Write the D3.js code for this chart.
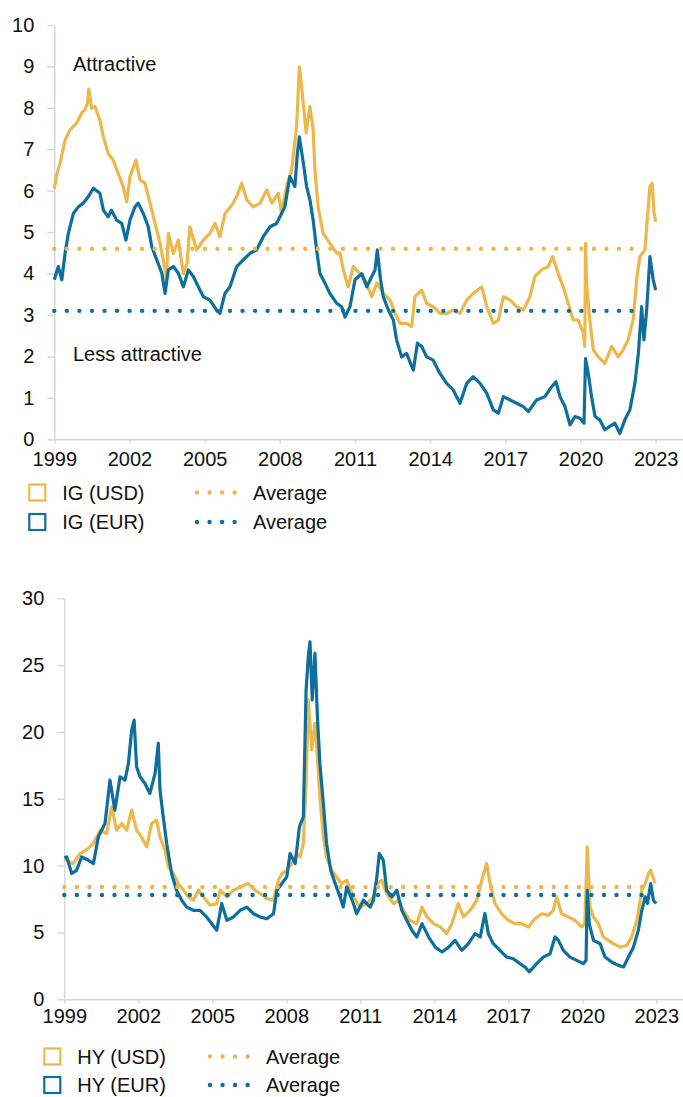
<!DOCTYPE html>
<html>
<head>
<meta charset="utf-8">
<script src="https://cdn.jsdelivr.net/npm/d3@7/dist/d3.min.js"></script>
<style>
  body { margin: 0; background: #fff; }
  svg text { font-family: "Liberation Sans", Arial, Helvetica, sans-serif; fill: #111; }
</style>
</head>
<body>
<svg id="chart" width="683" height="1097"></svg>
<script>
'use strict';

// ---- data ---------------------------------------------------------------

var yearTicks = [1999, 2002, 2005, 2008, 2011, 2014, 2017, 2020, 2023];
var igTicks = [0, 1, 2, 3, 4, 5, 6, 7, 8, 9, 10];
var hyTicks = [0, 5, 10, 15, 20, 25, 30];

var igLabels = ['IG (USD)', 'IG (EUR)'];
var hyLabels = ['HY (USD)', 'HY (EUR)'];
var averageLabel = 'Average';

// [decimal year, value]
var igUsd = [
  [1999.0, 6.05], [1999.1, 6.4], [1999.23, 6.66], [1999.43, 7.22], [1999.63, 7.47],
  [1999.89, 7.63], [2000.09, 7.87], [2000.22, 7.95], [2000.32, 8.1], [2000.38, 8.45],
  [2000.49, 7.99], [2000.62, 8.03], [2000.82, 7.71], [2000.96, 7.3], [2001.15, 6.9],
  [2001.35, 6.74], [2001.55, 6.42], [2001.75, 6.1], [2001.89, 5.73], [2002.02, 6.34],
  [2002.26, 6.74], [2002.42, 6.26], [2002.62, 6.18], [2002.82, 5.7], [2003.02, 5.21],
  [2003.22, 4.73], [2003.42, 4.09], [2003.47, 3.8], [2003.55, 4.97], [2003.75, 4.49],
  [2003.95, 4.81], [2004.15, 4.0], [2004.3, 4.25], [2004.41, 5.13], [2004.68, 4.57],
  [2004.95, 4.81], [2005.21, 4.97], [2005.41, 5.21], [2005.61, 4.89], [2005.81, 5.45],
  [2006.08, 5.65], [2006.28, 5.86], [2006.48, 6.18], [2006.68, 5.78], [2006.94, 5.61],
  [2007.21, 5.7], [2007.48, 6.02], [2007.68, 5.7], [2007.94, 5.94], [2008.07, 5.45],
  [2008.27, 6.1], [2008.47, 6.5], [2008.67, 7.55], [2008.78, 8.99], [2008.87, 8.51],
  [2009.0, 7.71], [2009.05, 7.39], [2009.2, 8.03], [2009.33, 7.47], [2009.4, 6.5],
  [2009.53, 5.61], [2009.73, 4.97], [2010.0, 4.73], [2010.27, 4.49], [2010.4, 4.5],
  [2010.53, 4.1], [2010.73, 3.68], [2010.93, 4.17], [2011.2, 4.0], [2011.4, 3.85],
  [2011.67, 3.44], [2011.87, 3.77], [2012.13, 3.52], [2012.4, 3.36], [2012.6, 3.04],
  [2012.8, 2.8], [2013.06, 2.8], [2013.26, 2.72], [2013.39, 3.44], [2013.66, 3.6],
  [2013.86, 3.28], [2014.12, 3.2], [2014.39, 3.04], [2014.66, 3.04], [2014.92, 3.12],
  [2015.19, 3.04], [2015.46, 3.36], [2015.72, 3.52], [2016.06, 3.68], [2016.26, 3.2],
  [2016.52, 2.8], [2016.72, 2.88], [2016.92, 3.44], [2017.19, 3.36], [2017.45, 3.2],
  [2017.72, 3.12], [2017.98, 3.44], [2018.18, 3.93], [2018.45, 4.09], [2018.71, 4.17],
  [2018.89, 4.41], [2019.11, 4.0], [2019.31, 3.68], [2019.51, 3.28], [2019.71, 2.88],
  [2019.91, 2.88], [2020.11, 2.56], [2020.17, 2.24], [2020.2, 4.73], [2020.25, 3.7],
  [2020.37, 2.88], [2020.51, 2.16], [2020.71, 1.99], [2020.97, 1.83], [2021.24, 2.24],
  [2021.51, 1.99], [2021.7, 2.16], [2021.9, 2.4], [2022.1, 2.88], [2022.24, 3.85],
  [2022.37, 4.41], [2022.57, 4.57], [2022.64, 5.13], [2022.77, 6.1], [2022.86, 6.18],
  [2022.93, 5.5], [2023.0, 5.25]
];

var igEur = [
  [1999.0, 3.85], [1999.16, 4.17], [1999.3, 3.85], [1999.43, 4.49], [1999.56, 4.97],
  [1999.76, 5.45], [1999.96, 5.61], [2000.16, 5.7], [2000.36, 5.86], [2000.56, 6.06],
  [2000.82, 5.94], [2000.96, 5.53], [2001.15, 5.37], [2001.28, 5.53], [2001.49, 5.29],
  [2001.69, 5.21], [2001.86, 4.81], [2002.02, 5.29], [2002.22, 5.61], [2002.35, 5.7],
  [2002.55, 5.45], [2002.75, 5.13], [2002.89, 4.65], [2003.09, 4.33], [2003.29, 4.01],
  [2003.42, 3.52], [2003.55, 4.09], [2003.75, 4.17], [2003.95, 4.01], [2004.15, 3.68],
  [2004.35, 4.09], [2004.55, 3.93], [2004.75, 3.68], [2004.95, 3.44], [2005.21, 3.36],
  [2005.48, 3.12], [2005.61, 3.04], [2005.81, 3.52], [2006.01, 3.68], [2006.28, 4.17],
  [2006.54, 4.33], [2006.81, 4.49], [2007.07, 4.57], [2007.34, 4.89], [2007.61, 5.13],
  [2007.87, 5.21], [2008.07, 5.45], [2008.2, 5.61], [2008.4, 6.34], [2008.6, 6.1],
  [2008.7, 6.9], [2008.78, 7.3], [2008.94, 6.66], [2009.07, 6.1], [2009.2, 5.78],
  [2009.33, 5.29], [2009.47, 4.57], [2009.6, 4.0], [2009.8, 3.77], [2010.0, 3.52],
  [2010.27, 3.28], [2010.47, 3.2], [2010.6, 2.95], [2010.8, 3.2], [2011.0, 3.85],
  [2011.27, 4.0], [2011.47, 3.68], [2011.67, 3.93], [2011.8, 4.09], [2011.89, 4.57],
  [2012.02, 3.85], [2012.13, 3.44], [2012.33, 3.12], [2012.53, 2.88], [2012.66, 2.4],
  [2012.86, 1.99], [2013.06, 2.07], [2013.33, 1.67], [2013.49, 2.32], [2013.66, 2.24],
  [2013.86, 1.99], [2014.12, 1.91], [2014.39, 1.59], [2014.66, 1.35], [2014.92, 1.19],
  [2015.19, 0.87], [2015.46, 1.35], [2015.72, 1.51], [2015.99, 1.35], [2016.26, 1.11],
  [2016.52, 0.71], [2016.72, 0.63], [2016.92, 1.03], [2017.19, 0.95], [2017.45, 0.87],
  [2017.72, 0.79], [2017.92, 0.67], [2018.25, 0.95], [2018.58, 1.03], [2018.85, 1.27],
  [2019.02, 1.39], [2019.18, 1.03], [2019.38, 0.79], [2019.58, 0.35], [2019.78, 0.55],
  [2019.98, 0.51], [2020.14, 0.39], [2020.2, 1.95], [2020.31, 1.59], [2020.44, 1.03],
  [2020.58, 0.55], [2020.77, 0.47], [2020.97, 0.23], [2021.17, 0.31], [2021.37, 0.39],
  [2021.57, 0.14], [2021.77, 0.47], [2021.97, 0.71], [2022.17, 1.35], [2022.31, 2.08],
  [2022.44, 3.2], [2022.53, 2.4], [2022.64, 3.12], [2022.77, 4.41], [2022.9, 3.85],
  [2023.0, 3.6]
];

var hyUsd = [
  [1999.0, 10.5], [1999.1, 10.4], [1999.35, 10.15], [1999.64, 10.9], [1999.91, 11.2],
  [2000.18, 11.66], [2000.45, 12.65], [2000.72, 12.4], [2000.92, 14.4], [2001.12, 12.65],
  [2001.33, 13.15], [2001.53, 12.65], [2001.73, 14.15], [2001.93, 12.65], [2002.13, 12.15],
  [2002.34, 11.4], [2002.54, 13.15], [2002.74, 13.4], [2002.88, 12.15], [2003.08, 11.15],
  [2003.22, 9.9], [2003.42, 9.4], [2003.63, 8.65], [2003.83, 8.16], [2004.03, 7.66],
  [2004.23, 7.41], [2004.44, 8.16], [2004.64, 7.66], [2004.91, 7.04], [2005.18, 7.16],
  [2005.32, 8.16], [2005.59, 7.66], [2005.86, 8.16], [2006.13, 8.4], [2006.46, 8.66],
  [2006.73, 8.16], [2006.94, 7.91], [2007.21, 7.54], [2007.48, 7.41], [2007.68, 8.9],
  [2007.82, 9.4], [2008.02, 9.65], [2008.22, 10.16], [2008.42, 10.9], [2008.56, 10.65],
  [2008.69, 11.66], [2008.8, 16.15], [2008.89, 22.4], [2009.03, 18.65], [2009.16, 20.64],
  [2009.26, 18.15], [2009.36, 15.15], [2009.5, 12.15], [2009.63, 10.65], [2009.84, 9.65],
  [2010.04, 9.15], [2010.24, 8.65], [2010.45, 8.9], [2010.72, 7.66], [2010.99, 6.9],
  [2011.26, 7.16], [2011.53, 7.66], [2011.67, 8.66], [2011.87, 8.9], [2012.07, 7.91],
  [2012.34, 7.16], [2012.55, 7.41], [2012.75, 6.66], [2013.01, 5.91], [2013.29, 5.66],
  [2013.5, 6.9], [2013.7, 6.16], [2013.97, 5.66], [2014.24, 5.41], [2014.5, 4.92],
  [2014.71, 5.66], [2014.84, 6.4], [2014.97, 7.16], [2015.18, 6.16], [2015.45, 6.66],
  [2015.72, 7.41], [2015.92, 8.9], [2016.12, 10.16], [2016.26, 8.66], [2016.46, 7.16],
  [2016.73, 6.4], [2017.0, 5.91], [2017.27, 5.66], [2017.54, 5.66], [2017.81, 5.41],
  [2018.08, 6.03], [2018.35, 6.4], [2018.62, 6.28], [2018.82, 6.66], [2018.96, 7.66],
  [2019.16, 6.4], [2019.43, 6.16], [2019.7, 5.91], [2019.97, 5.41], [2020.1, 5.66],
  [2020.2, 11.4], [2020.31, 6.9], [2020.45, 6.16], [2020.65, 5.66], [2020.85, 4.66],
  [2021.06, 4.41], [2021.26, 4.16], [2021.53, 3.9], [2021.8, 4.03], [2022.0, 4.66],
  [2022.21, 5.91], [2022.41, 8.16], [2022.55, 8.66], [2022.68, 9.4], [2022.77, 9.66],
  [2022.95, 8.66]
];

var hyEur = [
  [1999.0, 10.6], [1999.1, 10.65], [1999.3, 9.41], [1999.5, 9.65], [1999.7, 10.65],
  [1999.98, 10.4], [2000.18, 10.15], [2000.38, 12.15], [2000.65, 13.15], [2000.85, 16.4],
  [2001.05, 14.15], [2001.26, 16.65], [2001.46, 16.4], [2001.6, 17.65], [2001.73, 20.14],
  [2001.83, 20.89], [2001.93, 17.4], [2002.07, 16.65], [2002.27, 16.15], [2002.47, 15.4],
  [2002.68, 16.9], [2002.81, 19.14], [2002.88, 15.65], [2003.01, 13.66], [2003.15, 11.66],
  [2003.35, 9.41], [2003.55, 8.16], [2003.76, 7.41], [2003.96, 6.9], [2004.23, 6.66],
  [2004.5, 6.66], [2004.77, 6.16], [2004.97, 5.67], [2005.18, 5.17], [2005.38, 7.16],
  [2005.59, 5.91], [2005.86, 6.16], [2006.13, 6.66], [2006.4, 6.9], [2006.67, 6.4],
  [2006.94, 6.16], [2007.21, 6.03], [2007.48, 6.4], [2007.62, 8.16], [2007.82, 8.66],
  [2008.02, 9.16], [2008.15, 10.9], [2008.36, 10.15], [2008.53, 12.9], [2008.69, 13.66],
  [2008.8, 23.1], [2008.89, 25.6], [2008.96, 26.75], [2009.05, 22.4], [2009.16, 25.9],
  [2009.26, 21.15], [2009.36, 17.65], [2009.5, 14.65], [2009.63, 11.66], [2009.8, 9.65],
  [2009.98, 8.66], [2010.18, 7.66], [2010.31, 6.9], [2010.45, 8.41], [2010.72, 7.16],
  [2010.85, 6.4], [2011.12, 7.41], [2011.4, 6.9], [2011.53, 7.41], [2011.67, 9.16],
  [2011.77, 10.9], [2011.93, 10.4], [2012.07, 8.16], [2012.27, 7.66], [2012.48, 8.16],
  [2012.68, 6.66], [2012.88, 5.91], [2013.09, 5.17], [2013.29, 4.66], [2013.5, 5.66],
  [2013.77, 4.66], [2014.04, 3.9], [2014.31, 3.54], [2014.58, 3.9], [2014.84, 4.41],
  [2015.11, 3.66], [2015.38, 4.16], [2015.65, 4.91], [2015.86, 4.66], [2016.05, 6.42],
  [2016.19, 4.91], [2016.39, 4.16], [2016.66, 3.66], [2016.93, 3.16], [2017.2, 3.03],
  [2017.47, 2.67], [2017.67, 2.42], [2017.85, 2.05], [2018.15, 2.67], [2018.42, 3.16],
  [2018.69, 3.41], [2018.89, 4.66], [2019.03, 4.41], [2019.23, 3.66], [2019.5, 3.16],
  [2019.77, 2.91], [2020.04, 2.67], [2020.15, 2.91], [2020.2, 8.16], [2020.28, 5.66],
  [2020.45, 4.41], [2020.72, 4.16], [2020.92, 3.16], [2021.19, 2.79], [2021.46, 2.54],
  [2021.67, 2.42], [2021.87, 3.16], [2022.07, 3.9], [2022.27, 5.17], [2022.41, 6.66],
  [2022.55, 7.66], [2022.64, 7.16], [2022.77, 8.66], [2022.88, 7.41], [2022.99, 7.16]
];

// long-run averages, [value, first year, last year]
var igAverages = [[4.6, 1999, 2022.08], [3.1, 1999, 2022.08]];
var hyAverages = [[8.4, 1999, 2022.6], [7.8, 1999, 2022.6]];

// ---- styles -------------------------------------------------------------

var COLORS = ['#EDB84B', '#0F6F9C'];
var AXIS_COLOR = '#d5d8e2';
var FONT_SIZE = 20;
var DOT_GAP = 12.55;

var svg = d3.select('#chart');

/**
 * Draws a dotted horizontal rule made of round dots.
 * @private
 */
function dots(g, x1, x2, y, color) {
  g.append('line')
    .attr('x1', x1).attr('x2', x2)
    .attr('y1', y).attr('y2', y)
    .attr('stroke', color)
    .attr('stroke-width', 4.4)
    .attr('stroke-linecap', 'round')
    .attr('stroke-dasharray', '0 ' + DOT_GAP);
}

/**
 * Renders one panel: axes, two series, their averages and a legend.
 * @param {Object} cfg
 */
function panel(cfg) {
  var g = svg.append('g').attr('class', 'panel'),
      x, y, line, xAxis, yAxis;

  x = d3.scaleLinear().domain([1999, cfg.xEnd]).range([cfg.left, 683]);
  y = d3.scaleLinear().domain([0, cfg.yMax]).range([cfg.bottom, cfg.top]);

  yAxis = g.append('g')
    .attr('transform', 'translate(' + cfg.left + ',0)')
    .call(d3.axisLeft(y).tickValues(cfg.yTicks).tickSize(7).tickSizeOuter(0).tickPadding(13));

  xAxis = g.append('g')
    .attr('transform', 'translate(0,' + cfg.bottom + ')')
    .call(d3.axisBottom(x).tickValues(yearTicks).tickFormat(d3.format('d'))
      .tickSize(4).tickSizeOuter(0).tickPadding(cfg.xPad));

  [xAxis, yAxis].forEach(function(a) {
    a.selectAll('path, line').attr('stroke', AXIS_COLOR).attr('stroke-width', 1.5);
    a.selectAll('text')
      .attr('fill', '#111')
      .style('font-size', FONT_SIZE + 'px')
      .style('font-family', '"Liberation Sans", Arial, sans-serif');
  });

  line = d3.line()
    .x(function(d) { return x(d[0]); })
    .y(function(d) { return y(d[1]); });

  cfg.series.forEach(function(s, i) {
    g.append('path')
      .datum(s)
      .attr('d', line)
      .attr('fill', 'none')
      .attr('stroke', COLORS[i])
      .attr('stroke-width', 3.2)
      .attr('stroke-linejoin', 'round');
  });

  cfg.averages.forEach(function(a, i) {
    dots(g, x(a[1]), x(a[2]), y(a[0]), COLORS[i]);
  });

  (cfg.notes || []).forEach(function(n) {
    g.append('text')
      .attr('x', n.x).attr('y', n.y)
      .style('font-size', FONT_SIZE + 'px')
      .text(n.text);
  });

  // legend
  cfg.labels.forEach(function(label, i) {
    var ly = cfg.legend.y + i * cfg.legend.step;
    g.append('rect')
      .attr('x', cfg.legend.x).attr('y', ly - 8)
      .attr('width', 16).attr('height', 16)
      .attr('fill', '#fff')
      .attr('stroke', COLORS[i])
      .attr('stroke-width', 2.2);
    g.append('text')
      .attr('x', cfg.legend.x + 33).attr('y', ly + 7)
      .style('font-size', FONT_SIZE + 'px')
      .text(label);
    dots(g, cfg.legend.dotX, cfg.legend.dotX + 3 * DOT_GAP + 0.1, ly, COLORS[i]);
    g.append('text')
      .attr('x', cfg.legend.dotX + 56).attr('y', ly + 7)
      .style('font-size', FONT_SIZE + 'px')
      .text(averageLabel);
  });
}

panel({
  left: 54.3, top: 25, bottom: 439.3, xEnd: 2024.09,
  yMax: 10, yTicks: igTicks, xPad: 9,
  series: [igUsd, igEur],
  averages: igAverages,
  labels: igLabels,
  legend: { x: 29.3, y: 492.5, step: 29.5, dotX: 197 },
  notes: [
    { x: 73, y: 71, text: 'Attractive' },
    { x: 73, y: 361, text: 'Less attractive' }
  ]
});

panel({
  left: 64.3, top: 598.3, bottom: 999.3, xEnd: 2024.08,
  yMax: 30, yTicks: hyTicks, xPad: 6,
  series: [hyUsd, hyEur],
  averages: hyAverages,
  labels: hyLabels,
  legend: { x: 44.3, y: 1056.5, step: 28.5, dotX: 210 }
});
</script>
</body>
</html>
